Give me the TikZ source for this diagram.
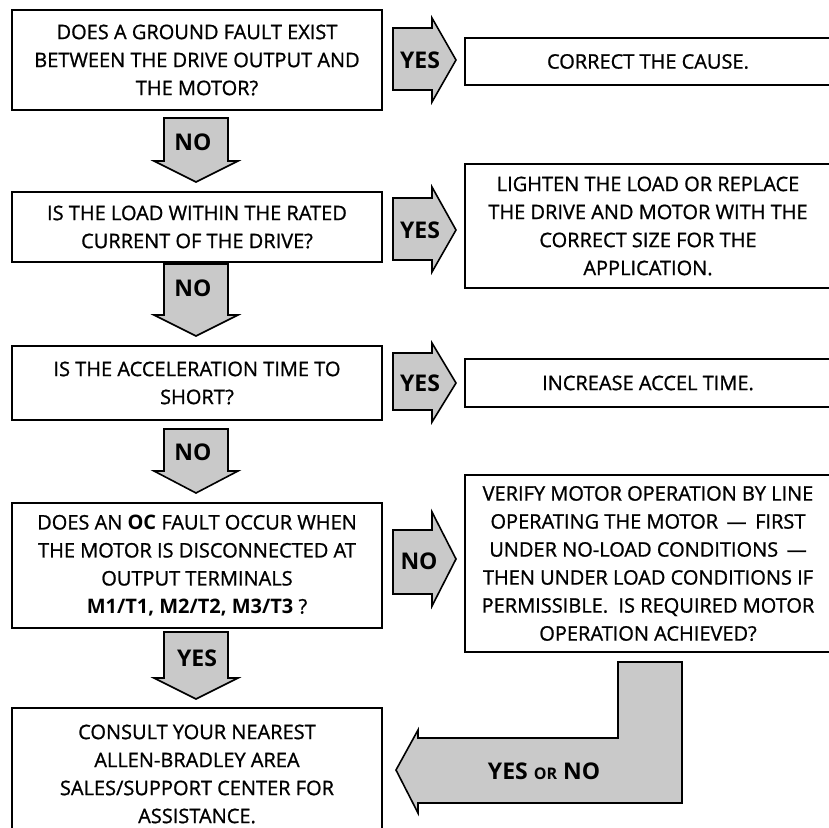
\documentclass[tikz,border=0pt]{standalone}
\usepackage{fontspec}
\setmainfont{Open Sans}[UprightFeatures={FakeBold=1}]
\tikzset{
  box/.style={draw, line width=1.4pt, inner sep=0pt, align=center, font=\fontsize{20}{28}\selectfont},
  blockarr/.style={draw, line width=1.6pt, fill=gray!42, line join=miter},
  lbl/.style={inner sep=0pt, font=\bfseries\fontsize{23}{24}\selectfont}
}
\begin{document}
\begin{tikzpicture}[x=1pt,y=-1pt]
\useasboundingbox (0,0) rectangle (828,828);
% left boxes
\node[box, minimum width=370, minimum height=100] (q1) at (197,60)
  {DOES A GROUND FAULT EXIST\\BETWEEN THE DRIVE OUTPUT AND\\THE MOTOR?};
\node[box, minimum width=370, minimum height=70] (q2) at (197,227)
  {IS THE LOAD WITHIN THE RATED\\CURRENT OF THE DRIVE?};
\node[box, minimum width=370, minimum height=74] (q3) at (197,383)
  {IS THE ACCELERATION TIME TO\\SHORT?};
\node[box, minimum width=370, minimum height=125] (q4) at (197,565.5)
  {DOES AN \textbf{OC} FAULT OCCUR WHEN\\THE MOTOR IS DISCONNECTED AT\\OUTPUT TERMINALS\\\textbf{M1/T1, M2/T2, M3/T3} ?};
\node[box, minimum width=370, minimum height=132] (q5) at (197,774)
  {CONSULT YOUR NEAREST\\ALLEN-BRADLEY AREA\\SALES/SUPPORT CENTER FOR\\ASSISTANCE.};
% right boxes
\node[box, minimum width=366, minimum height=47] (r1) at (648,61.5) {CORRECT THE CAUSE.};
\node[box, minimum width=366, minimum height=124] (r2) at (648,226)
  {LIGHTEN THE LOAD OR REPLACE\\THE DRIVE AND MOTOR WITH THE\\CORRECT SIZE FOR THE\\APPLICATION.};
\node[box, minimum width=366, minimum height=48] (r3) at (648,383) {INCREASE ACCEL TIME.};
\node[box, minimum width=366, minimum height=177] (r4) at (648,563.5)
  {VERIFY MOTOR OPERATION BY LINE\\OPERATING THE MOTOR \,---\, FIRST\\UNDER NO-LOAD CONDITIONS \,---\\THEN UNDER LOAD CONDITIONS IF\\PERMISSIBLE.\ \ IS REQUIRED MOTOR\\OPERATION ACHIEVED?};
% down arrows
\draw[blockarr] (164,118) -- (228,118) -- (228,161) -- (238,161) -- (196,182) -- (154,161) -- (164,161) -- cycle;
\draw[blockarr] (164,264) -- (228,264) -- (228,315) -- (238,315) -- (196,336) -- (154,315) -- (164,315) -- cycle;
\draw[blockarr] (164,429) -- (228,429) -- (228,471) -- (238,471) -- (196,493) -- (154,471) -- (164,471) -- cycle;
\draw[blockarr] (164,632) -- (228,632) -- (228,678) -- (238,678) -- (196,699) -- (154,678) -- (164,678) -- cycle;
% right arrows
\draw[blockarr] (393,28) -- (432,28) -- (432,18) -- (456,60) -- (432,102) -- (432,90) -- (393,90) -- cycle;
\draw[blockarr] (393,198) -- (432,198) -- (432,187) -- (456,230) -- (432,272) -- (432,260) -- (393,260) -- cycle;
\draw[blockarr] (393,353) -- (432,353) -- (432,343) -- (456,383) -- (432,422) -- (432,410) -- (393,410) -- cycle;
\draw[blockarr] (393,530) -- (432,530) -- (432,512) -- (456,559) -- (432,606) -- (432,594) -- (393,594) -- cycle;
% L arrow
\draw[blockarr] (618,662) -- (682,662) -- (682,803) -- (418,803) -- (418,813) -- (396,770) -- (418,730) -- (418,738) -- (618,738) -- cycle;
% labels
\node[lbl] (n1) at (193,142) {NO};
\node[lbl] (n2) at (193,288) {NO};
\node[lbl] (n3) at (193,452) {NO};
\node[lbl] (y4) at (197,658) {YES};
\node[lbl] (y1) at (420,60) {YES};
\node[lbl] (y2) at (420,230) {YES};
\node[lbl] (y3) at (420,383) {YES};
\node[lbl] (n4) at (419,561) {NO};
\node[lbl] (yn) at (544,771) {YES {\fontsize{16}{16}\selectfont OR} NO};
\end{tikzpicture}
\end{document}
